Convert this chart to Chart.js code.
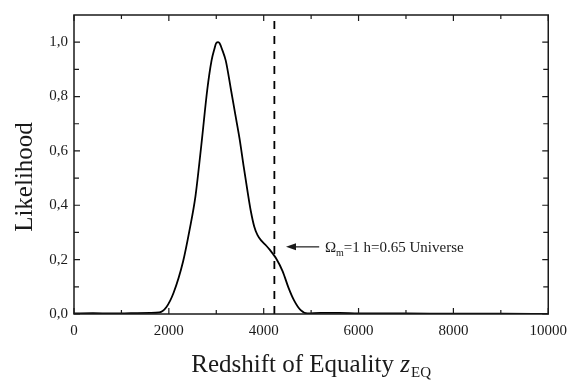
<!DOCTYPE html>
<html>
<head>
<meta charset="utf-8">
<script src="https://cdn.jsdelivr.net/npm/chart.js@4"></script>
<style>
html,body{margin:0;padding:0;background:#fff;}
#wrap{width:575px;height:381px;position:relative;}
</style>
</head>
<body>
<div id="wrap"><canvas id="c" width="575" height="381"></canvas></div>
<script>
// ---- data ----
const redshift = [0, 400, 800, 1200, 1600, 1800, 1950, 2100, 2300, 2440, 2560, 2640, 2700, 2810, 2900, 2960, 3000, 3040, 3070, 3130, 3200, 3310, 3400, 3490, 3580, 3660, 3730, 3800, 3870, 3950, 4050, 4130, 4200, 4260, 4400, 4520, 4640, 4780, 4920, 5200, 5600, 6000, 7000, 8000, 9000, 10000];
const likelihood = [0.002, 0.003, 0.002, 0.003, 0.004, 0.006, 0.026, 0.078, 0.193, 0.312, 0.432, 0.55, 0.646, 0.825, 0.932, 0.975, 0.997, 1.0, 0.996, 0.97, 0.932, 0.825, 0.735, 0.646, 0.54, 0.45, 0.377, 0.322, 0.29, 0.27, 0.252, 0.236, 0.22, 0.205, 0.157, 0.098, 0.05, 0.014, 0.002, 0.004, 0.004, 0.002, 0.002, 0.001, 0.001, 0.0];
const equalityRedshift = 4225;         // Omega_m=1, h=0.65 universe
const equalityLineTop = 1.08;
const xTicks = [0, 2000, 4000, 6000, 8000, 10000];
const xMinorTicks = [1000, 3000, 5000, 7000, 9000];
const yTicks = [0, 0.2, 0.4, 0.6, 0.8, 1.0];
const yMinorTicks = [0.1, 0.3, 0.5, 0.7, 0.9];
const annotationTip = {x: 4470, y: 0.247};
const annotationTailX = 5170;
const annotationTextX = 5290;

const curve = redshift.map((z, i) => ({x: z, y: likelihood[i]}));
const eqLine = [{x: equalityRedshift, y: 0}, {x: equalityRedshift, y: equalityLineTop}];

const SERIF = '"Liberation Serif", "Times New Roman", serif';
const INK = '#1a1a1a';

const framePlugin = {
  id: 'frame',
  afterDraw(chart) {
    const ctx = chart.ctx;
    const a = chart.chartArea;
    const xs = chart.scales.x, ys = chart.scales.y;
    ctx.save();
    ctx.strokeStyle = INK;
    ctx.lineWidth = 1.5;
    ctx.strokeRect(a.left, a.top, a.right - a.left, a.bottom - a.top);
    ctx.lineWidth = 1.2;
    ctx.beginPath();
    const tickX = (v, len) => {
      const px = xs.getPixelForValue(v);
      ctx.moveTo(px, a.bottom); ctx.lineTo(px, a.bottom - len);
      ctx.moveTo(px, a.top); ctx.lineTo(px, a.top + len);
    };
    const tickY = (v, len) => {
      const py = ys.getPixelForValue(v);
      ctx.moveTo(a.left, py); ctx.lineTo(a.left + len, py);
      ctx.moveTo(a.right, py); ctx.lineTo(a.right - len, py);
    };
    xTicks.forEach(v => tickX(v, 6));
    xMinorTicks.forEach(v => tickX(v, 4));
    yTicks.forEach(v => tickY(v, 6));
    yMinorTicks.forEach(v => tickY(v, 5));
    ctx.stroke();

    // annotation arrow
    const tx = xs.getPixelForValue(annotationTip.x);
    const ty = ys.getPixelForValue(annotationTip.y);
    const tailx = xs.getPixelForValue(annotationTailX);
    ctx.lineWidth = 1.2;
    ctx.beginPath();
    ctx.moveTo(tx + 8, ty); ctx.lineTo(tailx, ty);
    ctx.stroke();
    ctx.fillStyle = INK;
    ctx.beginPath();
    ctx.moveTo(tx, ty); ctx.lineTo(tx + 10, ty - 3.5); ctx.lineTo(tx + 10, ty + 3.5); ctx.closePath();
    ctx.fill();

    // annotation text
    let lx = xs.getPixelForValue(annotationTextX);
    const by = ty + 5;
    ctx.textBaseline = 'alphabetic';
    ctx.textAlign = 'left';
    ctx.font = '15px ' + SERIF;
    ctx.fillText('\u03A9', lx, by);
    lx += ctx.measureText('\u03A9').width;
    ctx.font = '10px ' + SERIF;
    ctx.fillText('m', lx, by + 4);
    lx += ctx.measureText('m').width;
    ctx.font = '15px ' + SERIF;
    ctx.fillText('=1 h=0.65 Universe', lx, by);

    // x title
    const main = 'Redshift of Equality ';
    ctx.font = '25px ' + SERIF;
    const w1 = ctx.measureText(main).width;
    ctx.font = 'italic 25px ' + SERIF;
    const w2 = ctx.measureText('z').width;
    ctx.font = '15px ' + SERIF;
    const w3 = ctx.measureText('EQ').width;
    const total = w1 + w2 + 1 + w3;
    let x0 = (a.left + a.right) / 2 - total / 2;
    const baseY = 372;
    ctx.font = '25px ' + SERIF;
    ctx.fillText(main, x0, baseY);
    ctx.font = 'italic 25px ' + SERIF;
    ctx.fillText('z', x0 + w1, baseY);
    ctx.font = '15px ' + SERIF;
    ctx.fillText('EQ', x0 + w1 + w2 + 1, baseY + 5);

    // y title
    ctx.save();
    ctx.translate(32, 177);
    ctx.rotate(-Math.PI / 2);
    ctx.font = '25px ' + SERIF;
    ctx.textAlign = 'center';
    ctx.fillText('Likelihood', 0, 0);
    ctx.restore();
    ctx.restore();
  }
};

new Chart(document.getElementById('c'), {
  type: 'scatter',
  data: {
    datasets: [
      {
        data: curve, showLine: true, borderColor: '#000', borderWidth: 1.8,
        pointRadius: 0, cubicInterpolationMode: 'monotone', fill: false
      },
      {
        data: eqLine, showLine: true, borderColor: '#000', borderWidth: 1.8,
        borderDash: [8, 7], pointRadius: 0, fill: false
      }
    ]
  },
  options: {
    responsive: false,
    animation: false,
    devicePixelRatio: 1,
    layout: {padding: {top: 6, right: 25, left: 0, bottom: 0}},
    plugins: {legend: {display: false}, tooltip: {enabled: false}},
    scales: {
      x: {
        type: 'linear', min: 0, max: 10000,
        grid: {display: false, drawTicks: false},
        border: {display: false},
        afterBuildTicks: s => { s.ticks = xTicks.map(v => ({value: v})); },
        afterFit: s => { s.height = 67; },
        ticks: {
          padding: 8, color: INK, maxRotation: 0,
          font: {family: SERIF, size: 15},
          callback: v => String(v)
        }
      },
      y: {
        type: 'linear', min: 0, max: 1.1,
        grid: {display: false, drawTicks: false},
        border: {display: false},
        afterBuildTicks: s => { s.ticks = yTicks.map(v => ({value: v})); },
        afterFit: s => { s.width = 74; },
        ticks: {
          padding: 6, color: INK,
          font: {family: SERIF, size: 15},
          callback: v => Number(v).toFixed(1).replace('.', ',')
        }
      }
    }
  },
  plugins: [framePlugin]
});
</script>
</body>
</html>
